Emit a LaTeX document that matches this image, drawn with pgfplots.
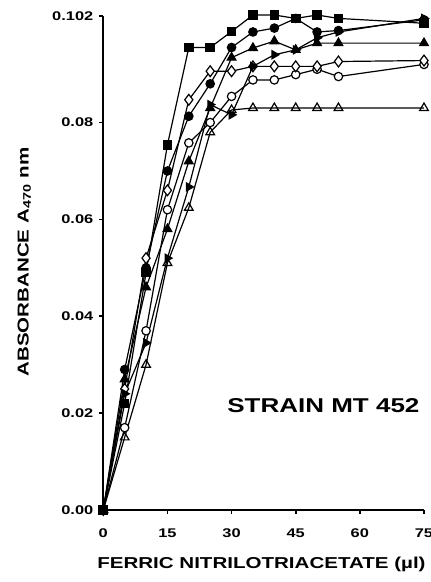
\documentclass[border=0pt]{standalone}
\usepackage{fontspec}
\setmainfont{Liberation Sans}[FakeStretch=1.3]
\usepackage{pgfplots}
\pgfplotsset{compat=1.18}
\begin{document}
\begin{tikzpicture}
\begin{axis}[
  at={(0pt,0pt)}, anchor=south west, scale only axis,
  width=160.35pt, height=247pt,
  xmin=0, xmax=75, ymin=0, ymax=0.102,
  axis lines*=left, clip=false,
  axis line style={line width=1pt},
  xtick={0,15,30,45,60,75}, xticklabels={0,15,30,45,60,75},
  ytick={0,0.02,0.04,0.06,0.08,0.102},
  yticklabels={0.00,0.02,0.04,0.06,0.08,0.102},
  tick align=outside, major tick length=2pt,
  tick style={line width=0.9pt, black},
  ticklabel style={font=\bfseries\fontsize{6.3}{7}\selectfont},
  xticklabel shift=4pt, yticklabel shift=-0.5pt,
  every axis plot/.append style={black, line width=0.6pt},
]
% F open triangle
\addplot[mark=triangle, mark size=2.5pt, mark options={fill=white, line width=0.6pt}] coordinates {
 (0,0) (5,0.015) (10,0.030) (15,0.051) (20,0.0624) (25,0.078) (30,0.0826) (35,0.083) (40,0.083) (45,0.083) (50,0.083) (55,0.083) (75,0.083)};
% E open circle
\addplot[mark=*, mark size=2.1pt, mark options={fill=white, line width=0.6pt}] coordinates {
 (0,0) (5,0.017) (10,0.037) (15,0.062) (20,0.0758) (25,0.080) (30,0.0854) (35,0.0888) (40,0.0888) (45,0.0899) (50,0.0910) (55,0.0895) (75,0.0920)};
% D open diamond
\addplot[mark=diamond*, mark size=2.7pt, mark options={fill=white, line width=0.6pt}] coordinates {
 (0,0) (5,0.025) (10,0.052) (15,0.066) (20,0.0847) (25,0.0906) (30,0.0906) (35,0.0916) (40,0.0916) (45,0.0916) (50,0.0916) (55,0.0926) (75,0.0928)};
% G filled right triangle
\addplot[mark=triangle*, mark size=2.3pt, mark options={rotate=-90, fill=black}] coordinates {
 (0,0) (5,0.024) (10,0.0345) (15,0.052) (20,0.0667) (25,0.0837) (30,0.0816) (35,0.0916) (40,0.0940) (45,0.0950) (50,0.0975) (55,0.0987) (75,0.1015)};
% C filled triangle
\addplot[mark=triangle*, mark size=2.5pt, mark options={fill=black}] coordinates {
 (0,0) (5,0.027) (10,0.046) (15,0.058) (20,0.072) (25,0.083) (30,0.0934) (35,0.0954) (40,0.0968) (45,0.0950) (50,0.0964) (55,0.0964) (75,0.0964)};
% B filled circle
\addplot[mark=*, mark size=2.1pt, mark options={fill=black}] coordinates {
 (0,0) (5,0.029) (10,0.050) (15,0.070) (20,0.0813) (25,0.088) (30,0.0955) (35,0.0987) (40,0.0995) (45,0.1015) (50,0.0987) (55,0.0990) (75,0.1012)};
% A filled square
\addplot[mark=square*, mark size=2.1pt, mark options={fill=black}] coordinates {
 (0,0) (5,0.022) (10,0.049) (15,0.0754) (20,0.0955) (25,0.0955) (30,0.0988) (35,0.1022) (40,0.1022) (45,0.1015) (50,0.1022) (55,0.1015) (75,0.1005)};
\end{axis}
\node[font=\bfseries\fontsize{7.9}{9}\selectfont, anchor=west, inner sep=0pt] at (-3.2pt,-27pt) {FERRIC NITRILOTRIACETATE (µl)};
\node[font=\bfseries\fontsize{7.9}{9}\selectfont, anchor=center, rotate=90] at (-39.5pt,124pt) {ABSORBANCE A\textsubscript{470} nm};
\node[font=\bfseries\fontsize{10}{12}\selectfont, anchor=west, inner sep=0pt] at (61.8pt,52pt) {STRAIN MT 452};
\pgfresetboundingbox
\path (-51.65pt,-36pt) rectangle (163.85pt,255pt);
\end{tikzpicture}
\end{document}
